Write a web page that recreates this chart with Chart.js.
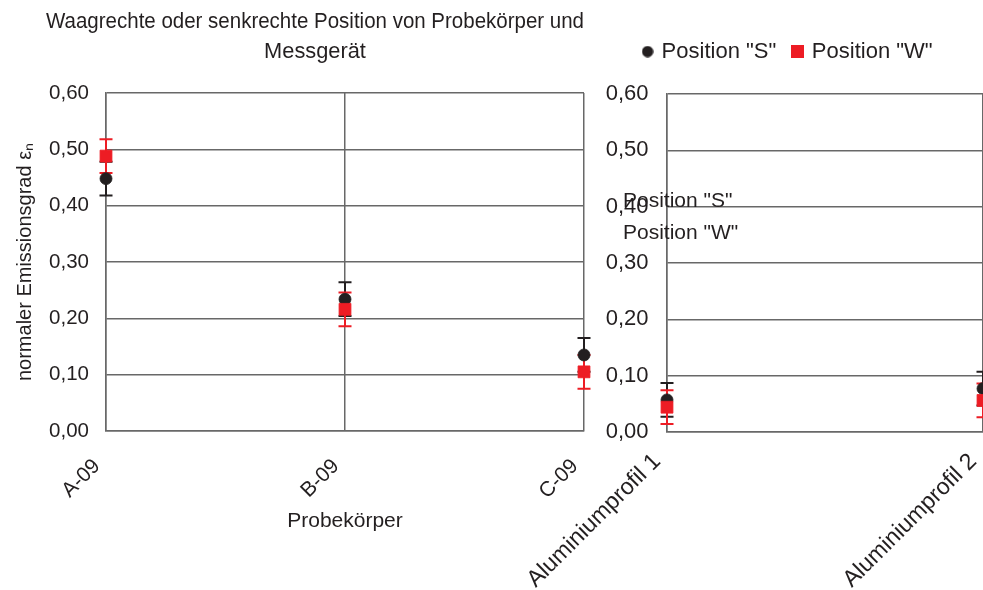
<!DOCTYPE html>
<html lang="de">
<head>
<meta charset="utf-8">
<title>Waagrechte oder senkrechte Position von Probekörper und Messgerät</title>
<script src="https://cdn.jsdelivr.net/npm/chart.js@4/dist/chart.umd.min.js"></script>
<style>
  html, body { margin: 0; padding: 0; background: #fff; overflow: hidden; }
  #wrap { position: relative; width: 983px; height: 590px; overflow: hidden; background: #fff; }
  .panel { position: absolute; top: 0; }
  #panelA { left: 0; }
  #panelB { left: 500px; }
</style>
</head>
<body>
<div id="wrap">
  <div class="panel" id="panelA"><canvas id="chartA" width="640" height="590"></canvas></div>
  <div class="panel" id="panelB"><canvas id="chartB" width="600" height="590"></canvas></div>
</div>
<script>
// Probekörper und Aluminiumprofile
const probeLabels = ['A-09', 'B-09', 'C-09'];
const profilLabels = ['Aluminiumprofil 1', 'Aluminiumprofil 2'];

// normaler Emissionsgrad je Messposition
const probeS = [0.448, 0.234, 0.135];
const probeW = [0.488, 0.216, 0.105];
const probeSErr = [0.03, 0.03, 0.03];
const probeWErr = [0.03, 0.03, 0.03];

const profilS = [0.057, 0.077];
const profilW = [0.044, 0.056];
const profilSErr = [0.03, 0.03];
const profilWErr = [0.03, 0.03];

// Achsteilung
const yTicks = [0, 0.1, 0.2, 0.3, 0.4, 0.5, 0.6];

const seriesNames = ['Position "S"', 'Position "W"'];
const titleLines = ['Waagrechte oder senkrechte Position von Probekörper und', 'Messgerät'];

const FONT = "'Liberation Sans', Arial, Helvetica, sans-serif";
const INK = '#231f20';
const RED = '#ed1c24';
const GRID = '#686868';

Chart.defaults.font.family = FONT;
Chart.defaults.color = INK;

function makeSet(label, values, errors, round) {
  const color = round ? INK : RED;
  return {
    label,
    data: values,
    errors,
    showLine: false,
    pointStyle: round ? 'circle' : 'rect',
    pointRadius: round ? 6 : 8.4,
    pointHoverRadius: round ? 6 : 8.4,
    pointBorderWidth: 0.8,
    borderColor: color,
    backgroundColor: color,
    order: round ? 1 : 0,
    clip: false
  };
}

// Fehlerbalken (± Messunsicherheit) je Punkt, über die y-Skala positioniert
const errorBars = {
  id: 'errorBars',
  beforeDatasetsDraw(chart, args, opts) {
    const { ctx } = chart;
    const yScale = chart.scales.y;
    const cap = opts.cap || 6.5;
    chart.data.datasets.forEach((ds, i) => {
      const meta = chart.getDatasetMeta(i);
      if (meta.hidden || !ds.errors) return;
      ctx.save();
      ctx.strokeStyle = ds.borderColor;
      ctx.lineWidth = opts.width || 2;
      meta.data.forEach((pt, j) => {
        const v = ds.data[j];
        const e = ds.errors[j];
        const x = pt.x;
        const yTop = yScale.getPixelForValue(v + e);
        const yBot = yScale.getPixelForValue(v - e);
        ctx.beginPath();
        ctx.moveTo(x, yTop); ctx.lineTo(x, yBot);
        ctx.moveTo(x - cap, yTop); ctx.lineTo(x + cap, yTop);
        ctx.moveTo(x - cap, yBot); ctx.lineTo(x + cap, yBot);
        ctx.stroke();
      });
      ctx.restore();
    });
  }
};

// Reihennamen als freie Beschriftung neben der Achse
const nameTags = {
  id: 'nameTags',
  afterDraw(chart, args, opts) {
    const { ctx } = chart;
    ctx.save();
    ctx.font = `${opts.size}px ${FONT}`;
    ctx.fillStyle = INK;
    ctx.textAlign = 'left';
    ctx.textBaseline = 'middle';
    chart.data.datasets.forEach((ds, i) => {
      ctx.fillText(ds.label, opts.x, opts.y + i * opts.gap);
    });
    ctx.restore();
  }
};

// Legende oberhalb des Diagramms an eine feste Stelle setzen
const legendPlacement = {
  id: 'legendPlacement',
  afterLayout(chart, args, opts) {
    const lg = chart.legend;
    if (!lg) return;
    const dx = opts.left - lg.left;
    const dy = opts.top - lg.top;
    lg.left += dx; lg.right += dx;
    lg.top += dy; lg.bottom += dy;
  }
};

function legendIcon(round, color, size) {
  const c = document.createElement('canvas');
  c.width = size; c.height = size;
  const g = c.getContext('2d');
  g.fillStyle = color;
  if (round) {
    g.beginPath();
    g.arc(size / 2, size / 2, size / 2 - 0.3, 0, Math.PI * 2);
    g.fill();
  } else {
    g.fillRect(0, 0, size, size);
  }
  return c;
}
const legendIcons = [legendIcon(true, INK, 12), legendIcon(false, RED, 13)];

const yTickFormat = v => Number(v).toFixed(2).replace('.', ',');

function yScale(width, top, pad, size, extra) {
  return Object.assign({
    min: 0,
    max: 0.6,
    afterBuildTicks: s => { s.ticks = yTicks.map(v => ({ value: v })); },
    ticks: { callback: yTickFormat, font: { size }, color: INK, padding: pad },
    grid: { color: GRID, lineWidth: 1.5, drawTicks: false },
    border: { color: GRID, width: 1.5 },
    afterFit: s => {
      s.width = width;
      if (top) s.paddingTop = top;
    }
  }, extra || {});
}

function xScale(height, size, pad, shift, extra) {
  return Object.assign({
    offset: false,
    grid: { color: GRID, lineWidth: 1.5, drawTicks: false },
    border: { color: GRID, width: 1.5 },
    ticks: {
      font: { size }, color: INK, minRotation: 45, maxRotation: 45,
      padding: pad, labelOffset: shift, autoSkip: false
    },
    afterFit: s => { s.height = height; }
  }, extra || {});
}

// Linkes Feld: Probekörper
new Chart(document.getElementById('chartA'), {
  type: 'line',
  data: {
    labels: probeLabels,
    datasets: [
      makeSet(seriesNames[0], probeS, probeSErr, true),
      makeSet(seriesNames[1], probeW, probeWErr, false)
    ]
  },
  options: {
    responsive: false,
    animation: false,
    devicePixelRatio: 1,
    events: [],
    layout: { padding: { left: 46, right: 56, top: 0, bottom: 0 } },
    plugins: {
      legend: { display: false },
      tooltip: { enabled: false },
      title: {
        display: true,
        text: titleLines,
        color: INK,
        font: { size: 21.8, weight: 'normal', lineHeight: 30 / 21.8 },
        padding: { top: 7, bottom: 26 }
      },
      errorBars: { cap: 6.5, width: 2 }
    },
    scales: {
      x: xScale(159, 21, 23, -9, {
        title: {
          display: true, text: 'Probekörper', color: INK,
          font: { size: 21 }, padding: { top: 0, bottom: 56 }
        }
      }),
      y: yScale(60, 0, 17, 20.5, {
        title: {
          display: true, text: 'normaler Emissionsgrad εₙ', color: INK,
          font: { size: 20 }, padding: { top: -33, bottom: 0 }
        }
      })
    }
  },
  plugins: [errorBars]
});

// Rechtes Feld: Aluminiumprofile
new Chart(document.getElementById('chartB'), {
  type: 'line',
  data: {
    labels: profilLabels,
    datasets: [
      makeSet(seriesNames[0], profilS, profilSErr, true),
      makeSet(seriesNames[1], profilW, profilWErr, false)
    ]
  },
  options: {
    responsive: false,
    animation: false,
    devicePixelRatio: 1,
    events: [],
    layout: { padding: { left: 90, right: 117, top: 22, bottom: 0 } },
    plugins: {
      title: { display: false },
      tooltip: { enabled: false },
      legend: {
        display: true,
        position: 'top',
        align: 'start',
        labels: {
          usePointStyle: true,
          pointStyleWidth: 6,
          padding: 18.6,
          color: INK,
          font: { size: 22 },
          sort: (a, b) => a.datasetIndex - b.datasetIndex,
          generateLabels: chart => Chart.defaults.plugins.legend.labels.generateLabels(chart)
            .map(item => Object.assign(item, { pointStyle: legendIcons[item.datasetIndex] }))
        }
      },
      legendPlacement: { left: 126, top: 22 },
      errorBars: { cap: 6.5, width: 2 },
      nameTags: { x: 123, y: 201, gap: 32, size: 21 }
    },
    scales: {
      x: xScale(158, 23.2, 16, -10),
      y: yScale(77, 94, 18.5, 22)
    }
  },
  plugins: [errorBars, nameTags, legendPlacement]
});
</script>
</body>
</html>
